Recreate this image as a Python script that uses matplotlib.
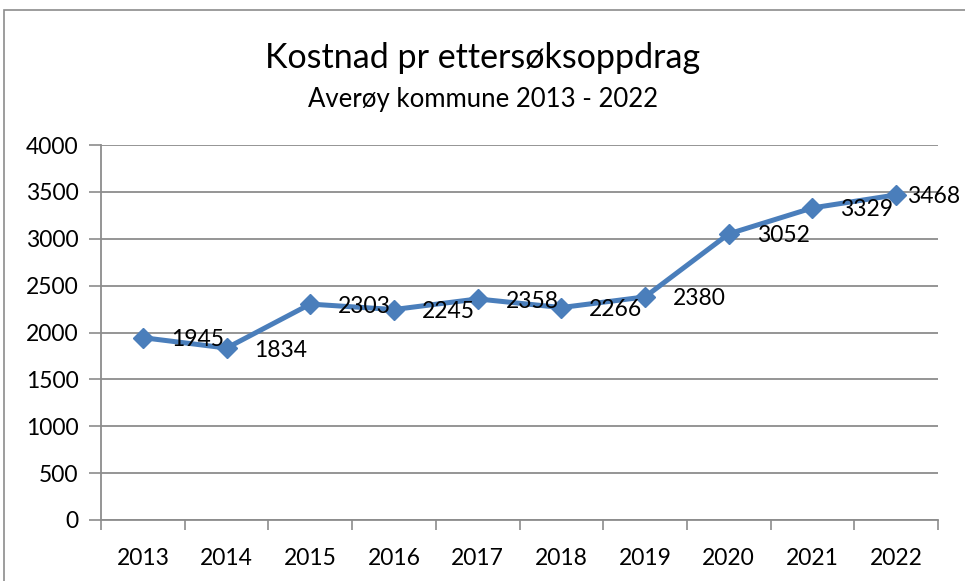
import matplotlib.pyplot as plt
from matplotlib.patches import Rectangle

# data
years = ['2013', '2014', '2015', '2016', '2017', '2018', '2019', '2020', '2021', '2022']
cost = [1945, 1834, 2303, 2245, 2358, 2266, 2380, 3052, 3329, 3468]
yticks = [0, 500, 1000, 1500, 2000, 2500, 3000, 3500, 4000]

title = 'Kostnad pr ettersøksoppdrag'
subtitle = 'Averøy kommune 2013 - 2022'

plt.rcParams['font.family'] = ['Lato', 'DejaVu Sans']

blue = '#4A7EBB'
grey = '#8C8C8C'

fig = plt.figure(figsize=(9.65, 5.81), dpi=100)
ax = fig.add_axes([101 / 965, 61 / 581, 837 / 965, 375 / 581])

x = list(range(len(years)))
ax.plot(x, cost, color=blue, lw=3.6, marker='D', ms=10, mec=blue, mfc=blue, zorder=3)

# data labels to the right of each point, the last one pulled in like Excel does
for i, v in enumerate(cost):
    dx = 20 if i < len(cost) - 1 else 7.5
    ax.annotate(str(v), (i, v), xytext=(dx, -1.5), textcoords='offset points',
                ha='left', va='center', fontsize=16.5, color='black', zorder=4)

ax.set_xlim(-0.5, len(years) - 0.5)
ax.set_ylim(0, 4000)
ax.set_yticks(yticks)
ax.set_yticklabels([str(t) for t in yticks], fontsize=16.5)
ax.set_xticks(x)
ax.set_xticklabels(years, fontsize=16.5)
ax.tick_params(axis='x', length=0, pad=20)
ax.tick_params(axis='y', length=9, width=1.2, color=grey, pad=7)

# category boundary ticks below the axis
ax.set_xticks([i - 0.5 for i in range(len(years) + 1)], minor=True)
ax.tick_params(axis='x', which='minor', length=7, width=1.2, color=grey, direction='out')

ax.grid(axis='y', color=grey, lw=1.3)
ax.set_axisbelow(True)
for s in ['top', 'right']:
    ax.spines[s].set_visible(False)
for s in ['left', 'bottom']:
    ax.spines[s].set_color(grey)
    ax.spines[s].set_linewidth(1.3)

fig.text(0.5, 1 - 58 / 581, title, ha='center', va='center', fontsize=24.5)
fig.text(0.5, 1 - 99 / 581, subtitle, ha='center', va='center', fontsize=18.5)

# outer chart frame (partly cut off at right and bottom)
fig.patches.append(Rectangle((4 / 965, -0.5), 2, 0.5 + 1 - 10 / 581,
                             transform=fig.transFigure, fill=False,
                             ec=grey, lw=1.2))

fig.savefig('out.png', dpi=100, facecolor='white')
